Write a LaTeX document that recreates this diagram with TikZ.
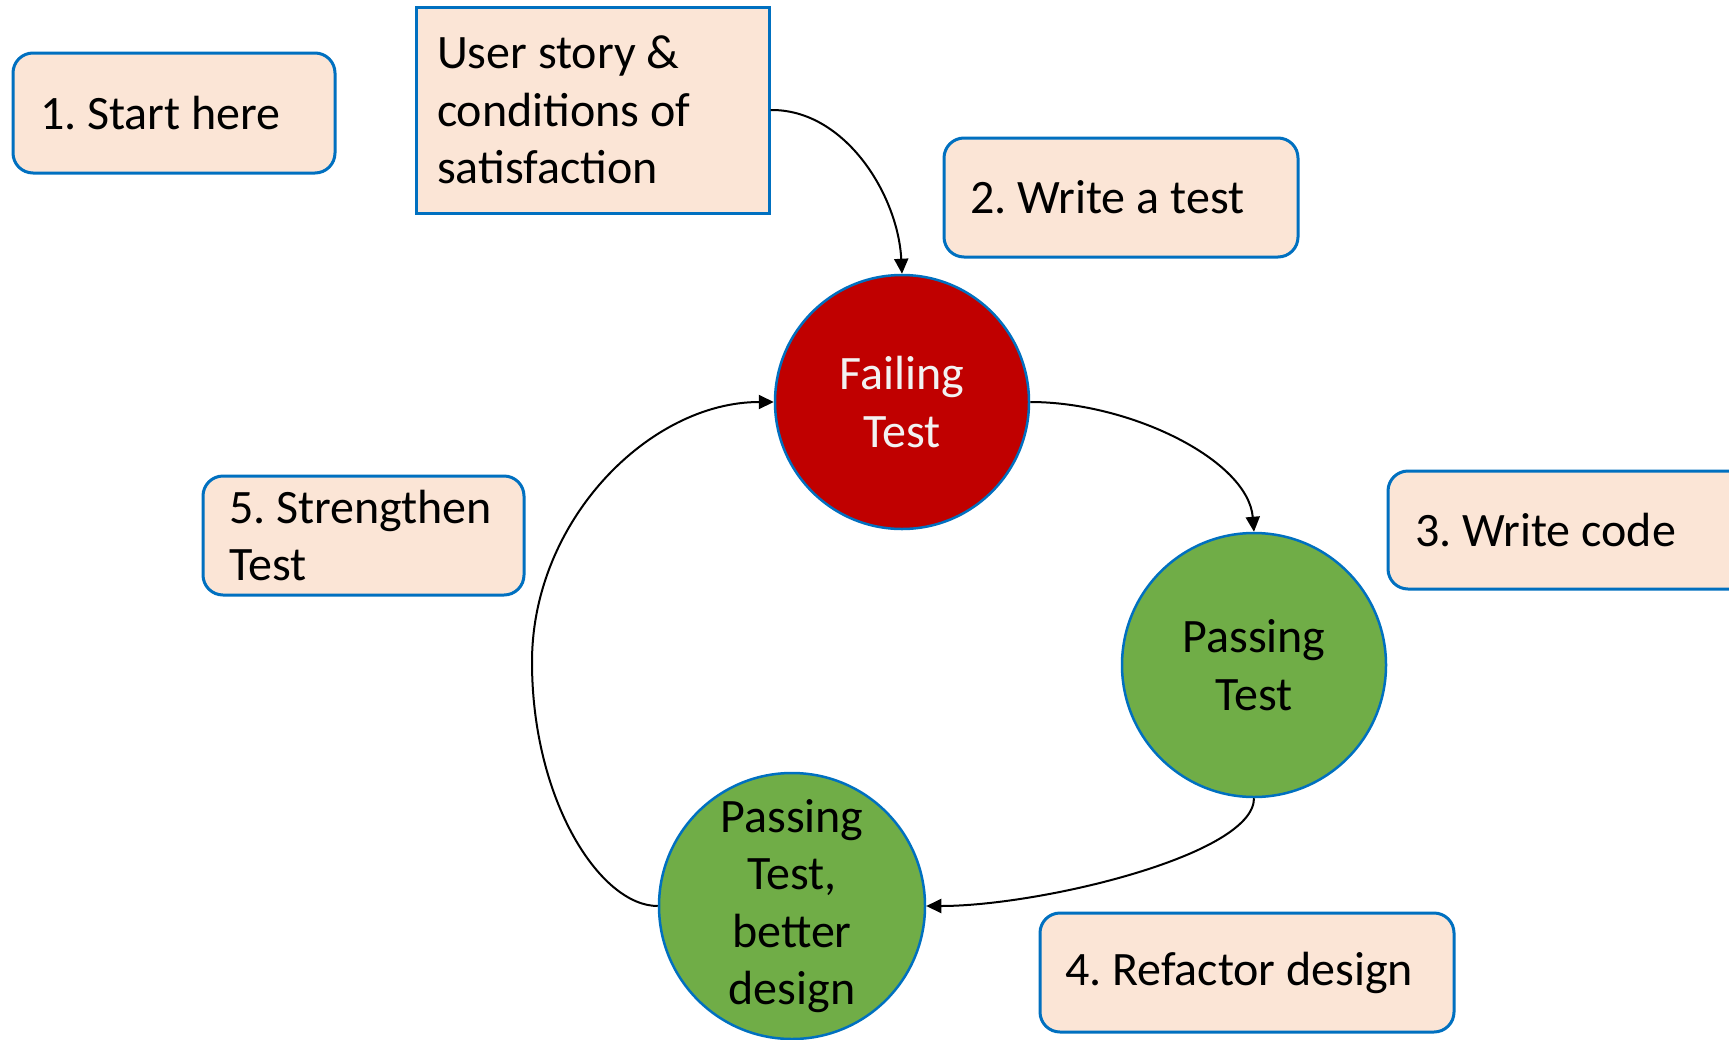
\documentclass[tikz,border=0pt]{standalone}
\usepackage{fontspec}
\setmainfont{Carlito}
\usetikzlibrary{arrows.meta}
\definecolor{peach}{HTML}{FBE5D6}
\definecolor{bblue}{HTML}{0070C0}
\definecolor{fred}{HTML}{C00000}
\definecolor{pgreen}{HTML}{70AD47}
\definecolor{ltext}{HTML}{F2F2F2}
\frenchspacing
\begin{document}
\begin{tikzpicture}[x=1pt,y=-1pt,
  txt/.style={font=\fontsize{48}{57.5}\selectfont\frenchspacing},
  box/.style={txt, draw=bblue, fill=peach, line width=3pt, rounded corners=20pt, align=flush left, inner ysep=0pt},
  sqbox/.style={box, sharp corners},
  state/.style={txt, circle, draw=bblue, line width=2.5pt, align=flush center, inner sep=0pt},
  conn/.style={draw=black, line width=2pt, -{Triangle[length=15pt,width=14pt]}}
]
\clip (0,0) rectangle (1729,1039);
\fill[white] (0,0) rectangle (1729,1039);

\node[box, minimum width=322pt, minimum height=120pt, text width=268pt, inner xsep=27pt] (start) at (174,113) {1. Start here};
\node[sqbox, minimum width=353pt, minimum height=206pt, text width=311pt, inner xsep=21pt] (story) at (592.5,110) {User story \&\\conditions of\\satisfaction};
\node[box, minimum width=354pt, minimum height=119pt, text width=302pt, inner xsep=26pt] (write) at (1121,197.5) {2. Write a test};
\node[box, minimum width=380pt, minimum height=118pt, text width=326pt, inner xsep=27pt] (code) at (1578,530) {3. Write code};
\node[box, minimum width=414pt, minimum height=119pt, text width=364pt, inner xsep=25pt] (refactor) at (1247,972.5) {4. Refactor design};
\node[box, minimum width=321pt, minimum height=119pt, text width=269pt, inner xsep=26pt] (strengthen) at (363.5,535.5) {5. Strengthen\\Test};

\node[state, fill=fred, text=ltext, minimum size=254pt] (fail) at (902,402) {Failing\\Test};
\node[state, fill=pgreen, text=black, minimum size=264pt] (pass) at (1254,665) {Passing\\Test};
\node[state, fill=pgreen, text=black, minimum size=266pt] (better) at (792,906) {Passing\\Test,\\better\\design};

\draw[conn] (story.east) .. controls (845,109) and (898,195) .. (fail.north);
\draw[conn] (fail.east) .. controls (1130,402) and (1248,460) .. (pass.north);
\draw[conn] (pass.south) .. controls (1254,855) and (1040,906) .. (better.east);
\draw[conn] (better.west) .. controls (600,906) and (532,800) .. (532,662)
  .. controls (532,520) and (650,402) .. (fail.west);
\end{tikzpicture}
\end{document}
